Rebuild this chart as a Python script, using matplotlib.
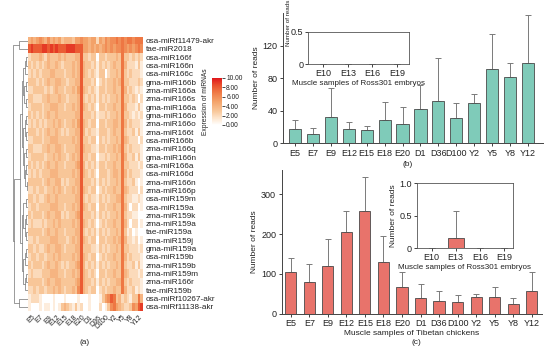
import numpy as np
import matplotlib
matplotlib.use("Agg")
import matplotlib.pyplot as plt
from matplotlib.colors import LinearSegmentedColormap

plt.rcParams['font.family'] = ['Liberation Sans', 'DejaVu Sans']

# ---------------- data ----------------
mirnas = ["osa-miRf11479-akr", "tae-miR2018", "osa-miR166f", "osa-miR166n", "osa-miR166c",
          "gma-miR166b", "zma-miR166a", "zma-miR166s", "gma-miR166a", "gma-miR166o",
          "zma-miR166o", "zma-miR166t", "osa-miR166b", "zma-miR166q", "gma-miR166n",
          "osa-miR166a", "osa-miR166d", "zma-miR166n", "zma-miR166p", "osa-miR159m",
          "osa-miR159a", "zma-miR159k", "zma-miR159a", "tae-miR159a", "zma-miR159j",
          "gma-miR159a", "osa-miR159b", "zma-miR159b", "zma-miR159m", "zma-miR166r",
          "tae-miR159b", "osa-miRf10267-akr", "osa-miRf11138-akr"]

stages = ["E5", "E7", "E9", "E12", "E15", "E18", "E20", "D1", "D36", "D100", "Y2", "Y5", "Y8", "Y12"]

# expression level per replicate (3 per stage), digits 0-9
heat_rows = [
    "454 565 464 545 344 435 565 545 525 465 667 676 776 777",
    "898 889 989 898 889 998 885 545 454 565 656 676 565 676",
    "233 343 243 334 343 334 483 323 303 323 334 373 323 232",
    "323 232 343 343 233 343 484 332 313 232 343 374 222 131",
    "232 323 334 433 323 343 484 323 213 302 334 373 232 221",
    "333 232 343 344 332 334 483 332 302 323 343 473 322 232",
    "223 333 232 343 323 343 584 323 213 323 343 374 232 121",
    "332 223 343 334 332 333 483 232 313 232 334 373 323 202",
    "233 332 334 443 323 343 484 323 203 323 343 374 222 131",
    "323 232 343 343 333 334 483 332 312 232 334 373 321 212",
    "232 323 233 434 323 343 584 323 303 323 344 374 232 221",
    "333 232 343 343 232 334 484 232 213 332 343 373 223 131",
    "223 332 334 443 333 343 483 323 303 232 334 374 322 202",
    "332 223 343 344 323 334 484 332 213 323 343 473 232 221",
    "233 333 233 434 332 343 483 323 302 232 334 374 223 131",
    "323 232 343 343 323 334 584 232 313 323 343 373 322 212",
    "232 323 334 443 333 343 484 323 203 332 344 374 232 221",
    "333 332 343 344 232 334 483 332 313 232 334 373 223 101",
    "223 233 233 434 323 343 484 323 302 323 343 374 322 202",
    "332 322 343 343 333 334 483 232 213 232 334 473 221 121",
    "233 233 334 443 323 343 484 323 303 323 343 374 202 201",
    "323 332 343 344 232 334 583 332 313 232 334 373 221 100",
    "232 223 233 434 333 343 484 323 202 323 343 374 202 201",
    "333 332 343 343 323 334 483 232 313 232 334 373 120 100",
    "223 233 334 443 332 343 484 323 303 323 343 474 221 201",
    "332 322 343 344 323 334 483 332 213 232 334 373 322 212",
    "233 233 233 434 333 343 484 323 302 323 343 374 232 221",
    "323 332 343 343 232 334 584 232 313 232 334 373 223 131",
    "232 223 334 443 323 343 484 323 203 323 343 374 322 212",
    "333 332 343 344 333 334 584 332 313 232 334 473 232 221",
    "223 233 233 434 323 343 684 323 302 323 343 374 223 121",
    "122 210 000 100 010 000 100 010 001 356 873 423 213 374",
    "100 010 110 101 343 213 120 010 002 013 675 432 236 589",
]

# dendrogram: [height, left, right]; leaves are row indices
m166 = [0.42, [0.30, [0.18, [0.10, 2, 3], 4], [0.25, [0.12, 5, 6], [0.15, 7, 8]]],
        [0.35, [0.22, [0.10, 9, 10], [0.14, 11, 12]],
         [0.28, [0.12, 13, 14], [0.20, [0.10, 15, 16], [0.09, 17, 18]]]]]
m159 = [0.40, [0.30, [0.15, 19, 20], [0.20, [0.10, 21, 22], [0.12, 23, 24]]],
        [0.32, [0.18, [0.10, 25, 26], 27], [0.22, [0.12, 28, 29], 30]]]
tree = [1.0, [0.62, 0, 1], [0.90, [0.52, m166, m159], [0.60, 31, 32]]]

cbar_ticks = [0, 2, 4, 6, 8, 10]

# panel b: Ross301
b_mean = [17, 11, 32, 17, 16, 29, 24, 42, 52, 31, 50, 91, 81, 99]
b_sd = [11, 8, 36, 9, 5, 22, 20, 29, 53, 18, 11, 43, 18, 59]
b_inset_stages = ["E10", "E13", "E16", "E19"]
b_inset_mean = [0, 0, 0, 0]
b_inset_sd = [0, 0, 0, 0]

# panel c: Tibetan chickens
c_mean = [105, 80, 121, 204, 258, 130, 68, 39, 31, 30, 43, 41, 25, 56]
c_sd = [34, 44, 67, 55, 86, 65, 36, 35, 27, 16, 7, 26, 14, 48]
c_inset_stages = ["E10", "E13", "E16", "E19"]
c_inset_mean = [0, 0.16, 0, 0]
c_inset_sd = [0, 0.41, 0, 0]

# ---------------- figure ----------------
W, H = 550, 353
fig = plt.figure(figsize=(W / 100, H / 100), dpi=100)
TXT = '#222222'


def box(l, t, r, b):
    return [l / W, 1 - b / H, (r - l) / W, (b - t) / H]


# heatmap
mat = np.array([[int(ch) for ch in r.replace(" ", "")] for r in heat_rows], dtype=float)
cmap = LinearSegmentedColormap.from_list(
    "orr", [(0, '#ffffff'), (0.15, '#fde4cb'), (0.3, '#f8c698'), (0.5, '#f4a36a'),
            (0.7, '#ef7844'), (0.85, '#e94f2c'), (1.0, '#e0161b')])
axh = fig.add_axes(box(28, 36.5, 143, 311))
im = axh.imshow(mat, aspect='auto', cmap=cmap, vmin=0, vmax=10, interpolation='nearest')
axh.set_yticks(range(len(mirnas)))
axh.set_yticklabels(mirnas, fontsize=5.9, color=TXT)
axh.yaxis.tick_right()
axh.tick_params(axis='y', length=0, pad=2)
axh.set_xticks([3 * i + 1 for i in range(len(stages))])
axh.set_xticklabels(stages, rotation=45, ha='right', rotation_mode='anchor', fontsize=5, color=TXT)
axh.tick_params(axis='x', length=0, pad=2)
for s in axh.spines.values():
    s.set_visible(False)

# dendrogram
axd = fig.add_axes(box(12, 36.5, 28, 311))


def draw(node):
    if isinstance(node, int):
        return node, 0.0
    h, L, R = node
    yl, hl = draw(L)
    yr, hr = draw(R)
    axd.plot([hl, h, h, hr], [yl, yl, yr, yr], color='#808080', lw=0.55)
    return (yl + yr) / 2, h


draw(tree)
axd.set_xlim(1.05, 0)
axd.set_ylim(len(mirnas) - 0.5, -0.5)
axd.axis('off')

# colorbar
axc = fig.add_axes(box(212, 78, 222, 125))
cb = fig.colorbar(im, cax=axc, ticks=cbar_ticks)
cb.ax.set_yticklabels(["%.2f" % t for t in cbar_ticks], fontsize=4.8, color=TXT)
cb.ax.tick_params(length=2, width=0.5, pad=1)
cb.outline.set_visible(False)
cb.ax.yaxis.set_label_position('left')
cb.set_label("Expression of miRNAs", fontsize=4.8, color=TXT, labelpad=2)

fig.text(85 / W, 1 - 343 / H, "(a)", fontsize=6, color=TXT, ha='center', va='center')


def style(ax, fs=6.5):
    for s in ['top', 'right']:
        ax.spines[s].set_visible(False)
    for s in ['left', 'bottom']:
        ax.spines[s].set_linewidth(0.7)
        ax.spines[s].set_color('#444444')
    ax.tick_params(labelsize=fs, length=2.5, width=0.6, pad=1.5, colors=TXT)


def bars(ax, names, mean, sd, color, width):
    x = np.arange(len(names))
    ax.bar(x, mean, width=width, color=color, edgecolor='#4a4a4a', linewidth=0.6, zorder=2)
    ax.errorbar(x, mean, yerr=[np.zeros(len(sd)), sd], fmt='none', ecolor='#7a7a7a',
                elinewidth=0.7, capsize=2, capthick=0.7, zorder=1)
    ax.set_xticks(x)
    ax.set_xticklabels(names)


# panel b
axb = fig.add_axes(box(283, 13, 543, 143.3))
bars(axb, stages, b_mean, b_sd, '#7fcbb9', 0.68)
axb.set_xlim(-0.67, 13.84)
axb.set_ylim(0, 160)
axb.set_yticks([0, 40, 80, 120])
style(axb)
axb.set_ylabel("Number of reads", fontsize=6, color=TXT, labelpad=2)
fig.text(408 / W, 1 - 164 / H, "(b)", fontsize=6, color=TXT, ha='center', va='center')

axbi = fig.add_axes(box(308.3, 31.7, 409.3, 64.3))
bars(axbi, b_inset_stages, b_inset_mean, b_inset_sd, '#7fcbb9', 0.65)
axbi.set_xlim(-0.61, 3.51)
axbi.set_ylim(0, 0.5)
axbi.set_yticks([0, 0.5])
axbi.set_yticklabels(["0", "0.5"])
axbi.tick_params(labelsize=6.5, length=2, width=0.6, pad=1.5, colors=TXT)
for s in axbi.spines.values():
    s.set_linewidth(0.6)
    s.set_color('#555555')
axbi.set_xlabel("Muscle samples of Ross301 embryos", fontsize=5.8, color=TXT, labelpad=1)
axbi.set_ylabel("Number of reads", fontsize=4.5, color=TXT)
axbi.yaxis.set_label_coords(-0.17, 1.28)

# panel c
axcc = fig.add_axes(box(281.7, 170.4, 541.7, 313.7))
bars(axcc, stages, c_mean, c_sd, '#e8736b', 0.6)
axcc.set_xlim(-0.49, 13.54)
axcc.set_ylim(0, 360)
axcc.set_yticks([0, 100, 200, 300])
style(axcc)
axcc.set_ylabel("Number of reads", fontsize=6, color=TXT, labelpad=2)
axcc.set_xlabel("Muscle samples of Tibetan chickens", fontsize=6, color=TXT, labelpad=1)
fig.text(416.7 / W, 1 - 342.7 / H, "(c)", fontsize=6, color=TXT, ha='center', va='center')

axci = fig.add_axes(box(416.7, 183.3, 513.3, 248.3))
bars(axci, c_inset_stages, c_inset_mean, c_inset_sd, '#e8736b', 0.65)
axci.set_xlim(-0.62, 3.39)
axci.set_ylim(0, 1.0)
axci.set_yticks([0, 0.5, 1.0])
axci.set_yticklabels(["0", "0.5", "1.0"])
axci.tick_params(labelsize=6.5, length=2, width=0.6, pad=1.5, colors=TXT)
for s in axci.spines.values():
    s.set_linewidth(0.6)
    s.set_color('#555555')
axci.set_xlabel("Muscle samples of Ross301 embryos", fontsize=5.8, color=TXT, labelpad=1)
axci.set_ylabel("Number of reads", fontsize=6, color=TXT, labelpad=2)

fig.savefig("out.png", dpi=100)
